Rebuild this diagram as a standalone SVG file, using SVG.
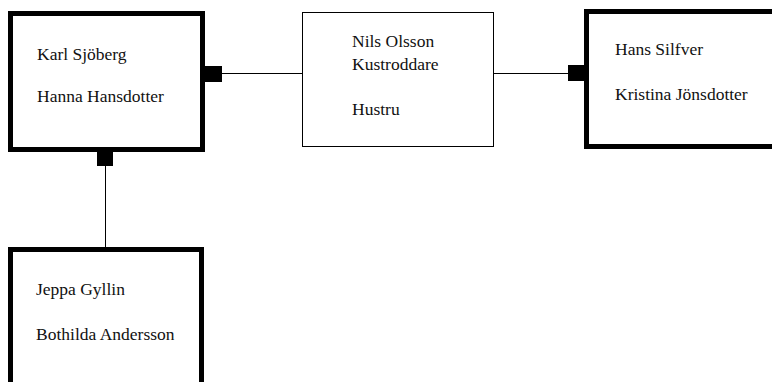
<svg xmlns="http://www.w3.org/2000/svg" width="772" height="382" viewBox="0 0 772 382">
<style>
.thick{fill:#fff;stroke:#000;stroke-width:5}
.thin{fill:#fff;stroke:#000;stroke-width:1}
.lbl{font-family:"Liberation Serif","Times New Roman",serif;font-size:17.5px;fill:#111}
.conn{stroke:#000;stroke-width:1;fill:none}
.sq{fill:#000}
</style>
<rect width="772" height="382" fill="#fff"/>
<g id="connectors">
<line class="conn" x1="222" y1="73.5" x2="302" y2="73.5"/>
<rect class="sq" x="205" y="66" width="17" height="16"/>
<line class="conn" x1="493" y1="73.5" x2="568" y2="73.5"/>
<rect class="sq" x="568" y="65" width="17" height="16"/>
<line class="conn" x1="105.5" y1="165" x2="105.5" y2="248"/>
<rect class="sq" x="97" y="152" width="16" height="14"/>
</g>
<g id="node-karl">
<rect class="thick" x="10.5" y="13.5" width="192" height="136"/>
<text class="lbl" x="37" y="60">Karl Sjöberg</text>
<text class="lbl" x="37" y="102">Hanna Hansdotter</text>
</g>
<g id="node-nils">
<rect class="thin" x="302.5" y="12.5" width="191" height="134"/>
<text class="lbl" x="352" y="47">Nils Olsson</text>
<text class="lbl" x="352" y="70">Kustroddare</text>
<text class="lbl" x="352" y="115">Hustru</text>
</g>
<g id="node-hans">
<rect class="thick" x="586.5" y="11.5" width="200" height="135"/>
<text class="lbl" x="615" y="55">Hans Silfver</text>
<text class="lbl" x="615" y="100">Kristina Jönsdotter</text>
</g>
<g id="node-jeppa">
<rect class="thick" x="10.5" y="249.5" width="191" height="150"/>
<text class="lbl" x="36" y="295">Jeppa Gyllin</text>
<text class="lbl" x="36" y="340">Bothilda Andersson</text>
</g>
</svg>
